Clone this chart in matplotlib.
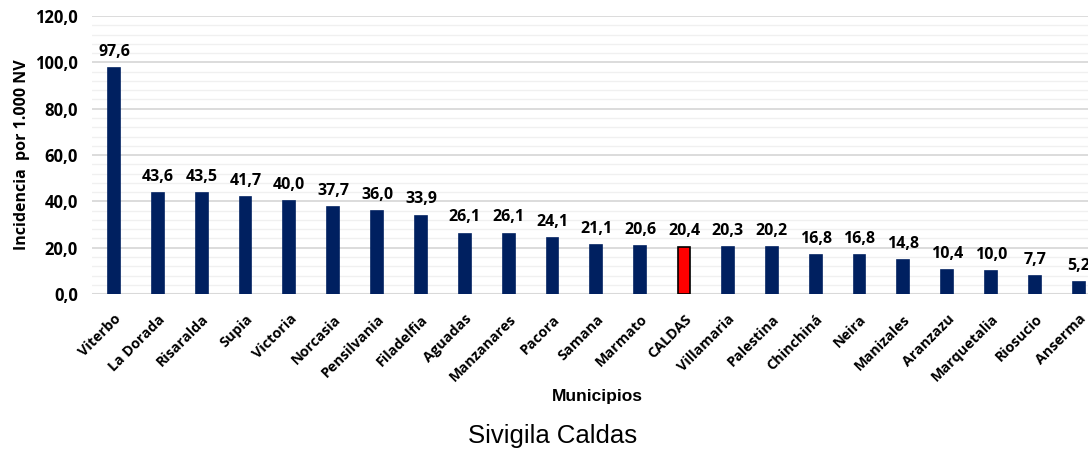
import matplotlib
matplotlib.use("Agg")
import matplotlib.pyplot as plt
from matplotlib.ticker import MultipleLocator, FuncFormatter

municipios = ["Viterbo", "La Dorada", "Risaralda", "Supia", "Victoria", "Norcasia",
              "Pensilvania", "Filadelfia", "Aguadas", "Manzanares", "Pacora", "Samana",
              "Marmato", "CALDAS", "Villamaria", "Palestina", "Chinchiná", "Neira",
              "Manizales", "Aranzazu", "Marquetalia", "Riosucio", "Anserma"]
incidencia = [97.6, 43.6, 43.5, 41.7, 40.0, 37.7, 36.0, 33.9, 26.1, 26.1, 24.1, 21.1,
              20.6, 20.4, 20.3, 20.2, 16.8, 16.8, 14.8, 10.4, 10.0, 7.7, 5.2]

plt.rcParams['font.family'] = ['Open Sans', 'DejaVu Sans']

fig = plt.figure(figsize=(10.88, 4.51), dpi=100)
ax = fig.add_axes([0.0846, 0.348, 0.927, 0.6164])

# colors: navy bars, CALDAS highlighted in red
colors = ['#ff0000' if m == 'CALDAS' else '#002060' for m in municipios]
edges = ['black' if m == 'CALDAS' else '#002060' for m in municipios]
x = range(len(municipios))
ax.bar(x, incidencia, width=0.27, color=colors, edgecolor=edges, linewidth=1.2, zorder=3)

for i, v in enumerate(incidencia):
    ax.text(i, v + 3.5, '{:.1f}'.format(v).replace('.', ','), ha='center', va='bottom',
            fontsize=11.5, fontweight='bold')

ax.set_xlim(-0.5, len(municipios) - 0.5)
ax.set_ylim(0, 120)
ax.yaxis.set_major_locator(MultipleLocator(20))
ax.yaxis.set_minor_locator(MultipleLocator(4))
ax.yaxis.set_major_formatter(FuncFormatter(lambda v, p: '{:.1f}'.format(v).replace('.', ',')))
ax.grid(axis='y', which='major', color='#d9d9d9', linewidth=1.3, zorder=0)
ax.grid(axis='y', which='minor', color='#f0f0f0', linewidth=1.0, zorder=0)
ax.tick_params(axis='both', which='both', length=0)
ax.tick_params(axis='y', labelsize=12, pad=10)
for lbl in ax.get_yticklabels():
    lbl.set_fontweight('bold')

ax.set_xticks(list(x))
ax.set_xticklabels(municipios, rotation=45, ha='right', rotation_mode='anchor',
                   fontsize=10.4, fontweight='bold')
ax.tick_params(axis='x', pad=13)

for s in ax.spines.values():
    s.set_visible(False)
ax.axhline(0, color='#d9d9d9', linewidth=1.5, zorder=2)

ax.set_ylabel('Incidencia  por 1.000 NV', fontsize=11.5, fontweight='bold')
ax.yaxis.set_label_coords(-0.062, 0.5)
fig.text(0.549, 0.12, 'Municipios', ha='center', va='center', fontsize=12.5,
         fontweight='bold', family=['Liberation Sans', 'DejaVu Sans'])
fig.text(0.508, 0.033, 'Sivigila Caldas', ha='center', va='center', fontsize=18.5,
         family=['Liberation Sans', 'DejaVu Sans'])

fig.savefig('out.png', dpi=100)
